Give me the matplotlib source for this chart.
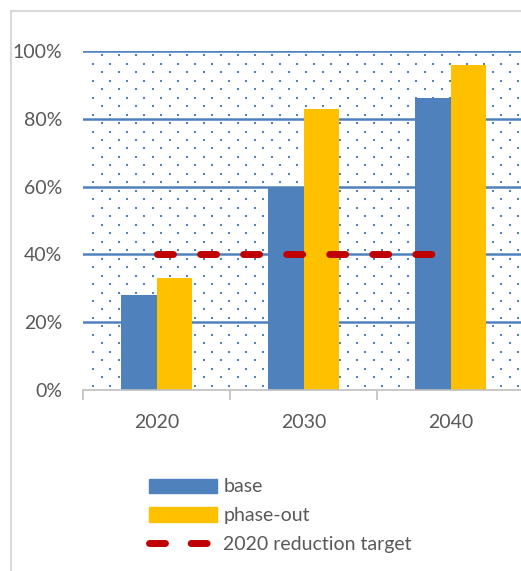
import numpy as np
import matplotlib
matplotlib.use("Agg")
import matplotlib.pyplot as plt
from matplotlib.patches import Rectangle
from matplotlib.lines import Line2D
from matplotlib.ticker import FuncFormatter

categories = ["2020", "2030", "2040"]
base = [28, 60, 86]
phase_out = [33, 83, 96]
target = [40, 40, 40]
y_ticks = [0, 20, 40, 60, 80, 100]

BLUE = "#4F81BD"
GOLD = "#FFC000"
RED = "#C00000"
GRAY = "#595959"

plt.rcParams['font.family'] = ['Lato', 'DejaVu Sans']
FS = 14

W, H = 521, 571
fig = plt.figure(figsize=(W / 100, H / 100), dpi=100)

# outer chart border
fig.patches.append(Rectangle((11 / W, -0.05), 1.2, (H - 11) / H + 0.05,
                             transform=fig.transFigure, fill=False,
                             edgecolor="#D9D9D9", linewidth=1.5))

ax = fig.add_axes([83 / W, (H - 390) / H, 441 / W, 339 / H])
x = np.arange(len(categories))
ax.set_xlim(-0.5, len(categories) - 0.5)
ax.set_ylim(0, 100)

# dotted pattern background
xs = np.arange(-0.5, 2.6, 17 / 147)
ys = np.arange(1.25, 100, 2.5)
px, py = [], []
for i, yy in enumerate(ys):
    off = 0 if i % 2 == 0 else 8.5 / 147
    for xx in xs:
        px.append(xx + off + 0.07)
        py.append(yy)
ax.scatter(px, py, s=1.8, marker="s", color=BLUE, linewidths=0, zorder=0)

for t in y_ticks[1:]:
    ax.axhline(t, color=BLUE, linewidth=1.8, zorder=1)

w = 0.24
ax.bar(x - w / 2, base, width=w, color=BLUE, zorder=2, label="base")
ax.bar(x + w / 2, phase_out, width=w, color=GOLD, zorder=2, label="phase-out")
ax.plot(x, target, color=RED, linewidth=5, dashes=(2.3, 3.9),
        dash_capstyle="round", zorder=3, label="2020 reduction target")

for s in ["top", "right", "left"]:
    ax.spines[s].set_visible(False)
ax.spines["bottom"].set_color("#BFBFBF")
ax.spines["bottom"].set_linewidth(1.2)

ax.set_yticks(y_ticks)
ax.yaxis.set_major_formatter(FuncFormatter(lambda v, p: f"{int(v)}%"))
ax.tick_params(axis="y", length=0, pad=15, labelsize=FS, labelcolor=GRAY)
ax.set_xticks(x)
ax.set_xticklabels(categories)
ax.tick_params(axis="x", length=0, pad=17, labelsize=FS, labelcolor=GRAY)
ax.set_xticks(np.arange(-0.5, len(categories) + 0.5, 1), minor=True)
ax.tick_params(axis="x", which="minor", length=7, width=1.2, color="#BFBFBF")

handles = [Rectangle((0, 0), 1, 1, color=BLUE),
           Rectangle((0, 0), 1, 1, color=GOLD),
           Line2D([0], [0], color=RED, linewidth=5, dashes=(2.3, 3.7),
                  dash_capstyle="round")]
fig.legend(handles, ["base", "phase-out", "2020 reduction target"],
           loc="upper left", bbox_to_anchor=(131 / W, 1 - 461 / H),
           frameon=False, fontsize=FS, labelcolor=GRAY,
           handlelength=3.5, handleheight=0.75, labelspacing=0.6,
           handletextpad=0.35)

fig.savefig("out.png", dpi=100)
